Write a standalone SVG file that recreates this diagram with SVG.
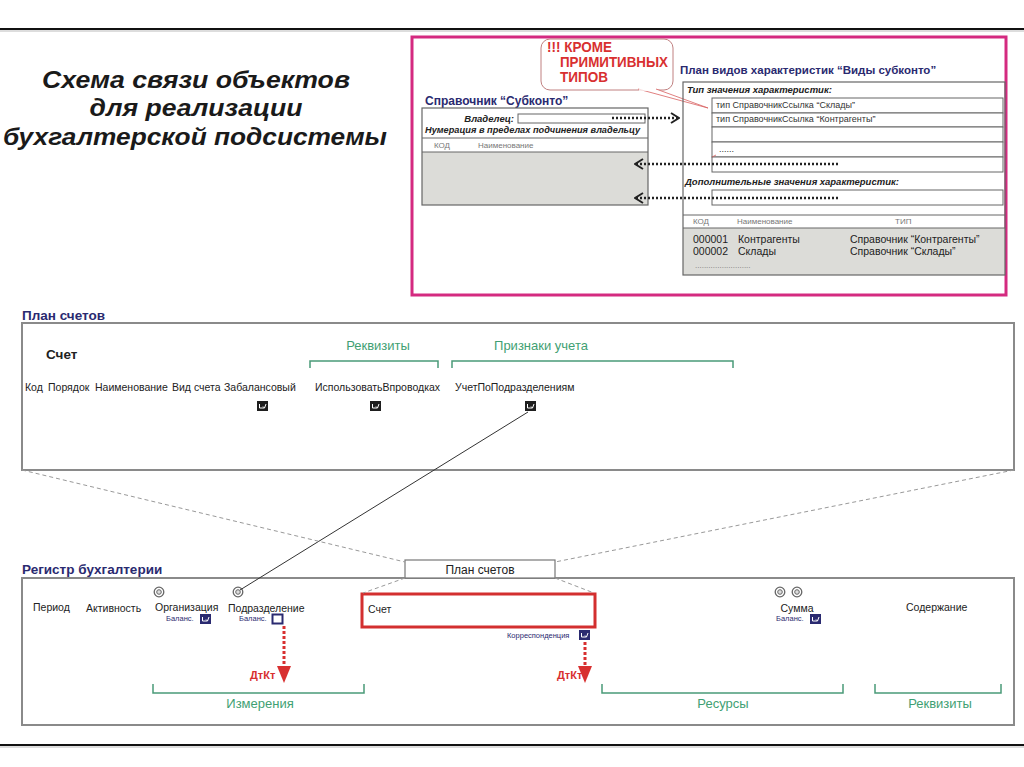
<svg xmlns="http://www.w3.org/2000/svg" width="1024" height="767" viewBox="0 0 1024 767">
<defs>
<style>
text{font-family:"Liberation Sans",Arial,sans-serif;fill:#222}
.ttl{font-size:23px;font-weight:bold;font-style:italic;fill:#1a1a1a}
.nv{font-weight:bold;fill:#2a2a70}
.bi{font-weight:bold;font-style:italic;font-size:9.5px;fill:#222}
.sm{font-size:9px;fill:#333}
.hd{font-size:8px;fill:#777}
.fld{font-size:10.5px;fill:#222}
.gr{font-size:13px;fill:#3f9f73}
.bal{font-size:7.5px;fill:#2a2a70}
.red{font-weight:bold;fill:#d83030}
.box{fill:none;stroke:#666;stroke-width:1.2}
.frame{fill:#fff;stroke:#8a8a8a;stroke-width:2}
.brk{fill:none;stroke:#4a9a78;stroke-width:1.5}
.dash{fill:none;stroke:#999;stroke-width:1;stroke-dasharray:4 3}
.dot{fill:none;stroke:#222;stroke-width:2.5;stroke-dasharray:2 2}
.rdot{fill:none;stroke:#d83030;stroke-width:3;stroke-dasharray:3 2}
</style>
<marker id="chevR" markerWidth="10" markerHeight="12" refX="9" refY="6" orient="auto" markerUnits="userSpaceOnUse">
<path d="M1,1 L9,6 L1,11" fill="none" stroke="#222" stroke-width="2"/>
</marker>
<symbol id="chkB" viewBox="0 0 11 10"><rect width="11" height="10" fill="#1e1e1e"/><path d="M2.5,3 v4 h5 M6,5.5 L7.5,7 L9,3" fill="none" stroke="#fff" stroke-width="1"/></symbol>
<symbol id="chkN" viewBox="0 0 11 10"><rect width="11" height="10" fill="#2a2a70"/><path d="M2.5,3 v4 h5 M6,5.5 L7.5,7 L9,3" fill="none" stroke="#fff" stroke-width="1"/></symbol>
<symbol id="ring" viewBox="0 0 12 12"><circle cx="6" cy="6" r="4.8" fill="#fff" stroke="#666" stroke-width="1.3"/><circle cx="6" cy="6" r="2.3" fill="#ddd" stroke="#666" stroke-width="1"/></symbol>
</defs>
<rect width="1024" height="767" fill="#fff"/>
<line x1="0" y1="29" x2="1024" y2="29" stroke="#111" stroke-width="2"/>
<line x1="0" y1="31" x2="1024" y2="31" stroke="#bbb" stroke-width="1"/>
<line x1="0" y1="745" x2="1024" y2="745" stroke="#111" stroke-width="2"/>
<line x1="0" y1="747" x2="1024" y2="747" stroke="#bbb" stroke-width="1"/>

<g id="title">
<text class="ttl" x="196" y="88" text-anchor="middle" textLength="308" lengthAdjust="spacingAndGlyphs">Схема связи объектов</text>
<text class="ttl" x="196" y="116" text-anchor="middle" textLength="213" lengthAdjust="spacingAndGlyphs">для реализации</text>
<text class="ttl" x="195" y="145" text-anchor="middle" textLength="384" lengthAdjust="spacingAndGlyphs">бухгалтерской подсистемы</text>
</g>

<g id="subkonto-frame">
<rect x="412" y="37" width="594" height="258" fill="none" stroke="#d42a80" stroke-width="3"/>
</g>

<g id="callout">
<rect x="541" y="39" width="132" height="51" rx="9" fill="#fff" stroke="#c08080" stroke-width="1"/>
<path d="M638,89 L708,108 L656,89" fill="#fff" stroke="#d86060" stroke-width="0.8"/>
<line x1="639" y1="90" x2="655" y2="90" stroke="#fff" stroke-width="1.5"/>
<text class="red" x="547" y="52" font-size="14" textLength="65" lengthAdjust="spacingAndGlyphs">!!! КРОМЕ</text>
<text class="red" x="560" y="67" font-size="14" textLength="108" lengthAdjust="spacingAndGlyphs">ПРИМИТИВНЫХ</text>
<text class="red" x="560" y="82" font-size="14" textLength="48" lengthAdjust="spacingAndGlyphs">ТИПОВ</text>
</g>

<g id="sprav-subkonto">
<text class="nv" x="425" y="105" font-size="12">Справочник “Субконто”</text>
<rect x="422" y="152" width="226" height="53" fill="#dcdcd8"/>
<rect x="422" y="108" width="226" height="97" class="box"/>
<line x1="422" y1="138" x2="648" y2="138" stroke="#666" stroke-width="1"/>
<line x1="422" y1="152" x2="648" y2="152" stroke="#666" stroke-width="1"/>
<rect x="518" y="114" width="127" height="9" fill="#fff" stroke="#666" stroke-width="1"/>
<text class="bi" x="514" y="122" text-anchor="end">Владелец:</text>
<text class="bi" x="425" y="133" textLength="215" lengthAdjust="spacingAndGlyphs">Нумерация в пределах подчинения владельцу</text>
<text class="hd" x="434" y="148">КОД</text>
<text class="hd" x="478" y="148">Наименование</text>
</g>

<g id="pvh-vidy-subkonto">
<text class="nv" x="680" y="74" font-size="11.5">План видов характеристик “Виды субконто”</text>
<rect x="683" y="228" width="322" height="47" fill="#dcdcd8"/>
<rect x="683" y="82" width="322" height="193" class="box"/>
<text class="bi" x="687" y="93">Тип значения характеристик:</text>
<rect x="712" y="98" width="291" height="15" fill="#fff" stroke="#666" stroke-width="1"/>
<rect x="712" y="113" width="291" height="14" fill="#fff" stroke="#666" stroke-width="1"/>
<rect x="712" y="127" width="291" height="15" fill="#fff" stroke="#666" stroke-width="1"/>
<rect x="712" y="142" width="291" height="15" fill="#fff" stroke="#666" stroke-width="1"/>
<rect x="712" y="157" width="291" height="15" fill="#fff" stroke="#666" stroke-width="1"/>
<text class="sm" x="716" y="108">тип СправочникСсылка “Склады”</text>
<text class="sm" x="716" y="122">тип СправочникСсылка “Контрагенты”</text>
<text class="sm" x="719" y="152">......</text>
<line x1="712" y1="157" x2="716" y2="155" stroke="#d86060" stroke-width="0.8"/>
<text class="bi" x="685" y="185">Дополнительные значения характеристик:</text>
<rect x="712" y="190" width="291" height="15" fill="#fff" stroke="#666" stroke-width="1"/>
<line x1="683" y1="215" x2="1005" y2="215" stroke="#666" stroke-width="1"/>
<line x1="683" y1="228" x2="1005" y2="228" stroke="#666" stroke-width="1"/>
<text class="hd" x="693" y="224">КОД</text>
<text class="hd" x="737" y="224">Наименование</text>
<text class="hd" x="895" y="224">ТИП</text>
<text class="fld" x="693" y="243" fill="#333">000001</text>
<text class="fld" x="738" y="243" fill="#333">Контрагенты</text>
<text class="fld" x="850" y="243" fill="#333">Справочник “Контрагенты”</text>
<text class="fld" x="693" y="255" fill="#333">000002</text>
<text class="fld" x="738" y="255" fill="#333">Склады</text>
<text class="fld" x="850" y="255" fill="#333">Справочник “Склады”</text>
<text class="hd" x="695" y="268">.........................</text>
</g>

<g id="plan-schetov">
<text class="nv" x="22" y="320" font-size="13.5">План счетов</text>
<rect x="22" y="323" width="992" height="147" class="frame"/>
<text x="46" y="359" font-size="13.5" font-weight="bold" fill="#1a1a1a">Счет</text>
<text class="fld" x="25" y="391">Код</text>
<text class="fld" x="48" y="391">Порядок</text>
<text class="fld" x="95" y="391">Наименование</text>
<text class="fld" x="172" y="391">Вид счета</text>
<text class="fld" x="224" y="391">Забалансовый</text>
<use href="#chkB" x="257" y="401" width="11" height="10"/>
<text class="gr" x="378" y="350" text-anchor="middle">Реквизиты</text>
<path class="brk" d="M310,368 V361 H438 V368"/>
<text class="fld" x="315" y="391">ИспользоватьВпроводках</text>
<use href="#chkB" x="370" y="401" width="11" height="10"/>
<text class="gr" x="541" y="350" text-anchor="middle">Признаки учета</text>
<path class="brk" d="M452,368 V361 H733 V368"/>
<text class="fld" x="455" y="391">УчетПоПодразделениям</text>
<use href="#chkB" x="525" y="401" width="11" height="10"/>
</g>

<g id="registr">
<text class="nv" x="22" y="574" font-size="13.5">Регистр бухгалтерии</text>
<rect x="22" y="578" width="992" height="147" class="frame"/>
<text class="fld" x="33" y="611">Период</text>
<text class="fld" x="86" y="612">Активность</text>
<use href="#ring" x="153" y="586" width="12" height="12"/>
<text class="fld" x="155" y="611">Организация</text>
<text class="bal" x="166" y="621">Баланс.</text>
<use href="#chkN" x="200" y="614" width="11" height="10"/>
<use href="#ring" x="232" y="586" width="12" height="12"/>
<text class="fld" x="228" y="612">Подразделение</text>
<text class="bal" x="239" y="621">Баланс.</text>
<rect x="272.5" y="614.5" width="10" height="9" fill="#fff" stroke="#2a2a70" stroke-width="2"/>
<rect x="362" y="594" width="233" height="33" fill="none" stroke="#d32f2f" stroke-width="3"/>
<text class="fld" x="368" y="613">Счет</text>
<text class="bal" x="507" y="638" font-size="8.5">Корреспонденция</text>
<use href="#chkN" x="579" y="630" width="11" height="10"/>
<use href="#ring" x="774" y="586" width="12" height="12"/>
<use href="#ring" x="791" y="586" width="12" height="12"/>
<text class="fld" x="797" y="612" text-anchor="middle">Сумма</text>
<text class="bal" x="776" y="621">Баланс.</text>
<use href="#chkN" x="810" y="614" width="11" height="10"/>
<text class="fld" x="906" y="611">Содержание</text>
<path class="brk" d="M153,684 V693 H364 V684"/>
<text class="gr" x="260" y="708" text-anchor="middle">Измерения</text>
<path class="brk" d="M602,684 V693 H843 V684"/>
<text class="gr" x="723" y="708" text-anchor="middle">Ресурсы</text>
<path class="brk" d="M875,684 V693 H1001 V684"/>
<text class="gr" x="940" y="708" text-anchor="middle">Реквизиты</text>
<text class="red" x="250" y="679" font-size="11">ДтКт</text>
<text class="red" x="557" y="679" font-size="11">ДтКт</text>
</g>

<g id="plan-schetov-ref">
<rect x="405" y="560" width="150" height="18" fill="#fff" stroke="#777" stroke-width="1.2"/>
<text x="480" y="574" font-size="12" text-anchor="middle" fill="#333">План счетов</text>
</g>

<g id="connectors">
<line class="dot" x1="612" y1="118" x2="679" y2="118" marker-end="url(#chevR)"/>
<line class="dot" x1="838" y1="164" x2="635" y2="164" marker-end="url(#chevR)"/>
<line class="dot" x1="838" y1="198" x2="635" y2="198" marker-end="url(#chevR)"/>
<line x1="528" y1="412" x2="240" y2="590" stroke="#333" stroke-width="1"/>
<line class="dash" x1="22" y1="470" x2="405" y2="562"/>
<line class="dash" x1="1014" y1="470" x2="555" y2="562"/>
<line class="dash" x1="405" y1="578" x2="363" y2="593"/>
<line class="dash" x1="555" y1="578" x2="594" y2="593"/>
<line class="rdot" x1="284" y1="626" x2="284" y2="668"/>
<path d="M277,666 L291,666 L284,683 Z" fill="#d83030"/>
<line class="rdot" x1="585" y1="642" x2="585" y2="668"/>
<path d="M578,666 L592,666 L585,683 Z" fill="#d83030"/>
</g>
</svg>
